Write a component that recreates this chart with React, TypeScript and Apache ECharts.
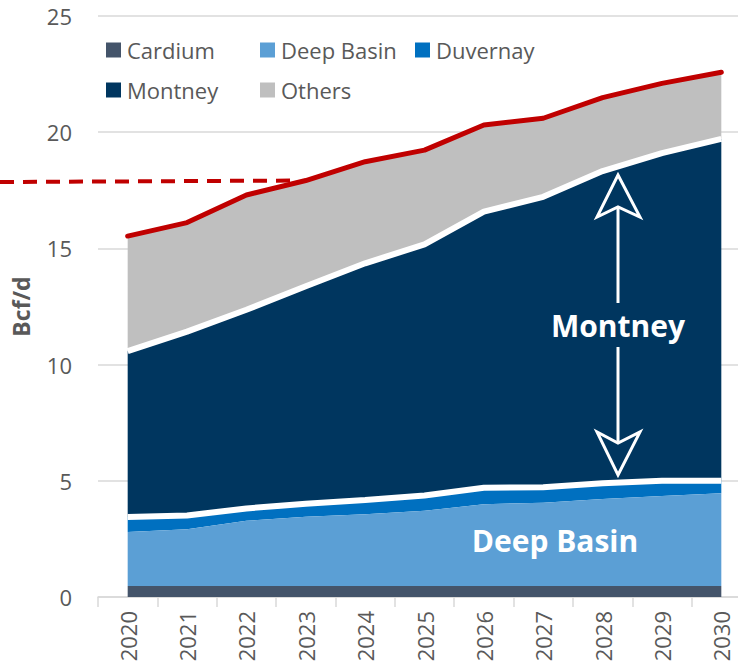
import React, { useEffect, useRef } from "react";
import * as echarts from "echarts";

const years = ["2020", "2021", "2022", "2023", "2024", "2025", "2026", "2027", "2028", "2029", "2030"];
const cardium = [0.47, 0.47, 0.47, 0.47, 0.47, 0.47, 0.47, 0.47, 0.47, 0.47, 0.47];
const deepBasin = [2.33, 2.45, 2.81, 2.98, 3.09, 3.24, 3.52, 3.59, 3.75, 3.88, 3.99];
const duvernay = [0.64, 0.59, 0.53, 0.56, 0.61, 0.66, 0.71, 0.66, 0.67, 0.65, 0.54];
const montney = [7.14, 7.91, 8.55, 9.36, 10.19, 10.8, 11.88, 12.5, 13.44, 14.1, 14.71];
const others = [4.95, 4.69, 4.94, 4.55, 4.37, 4.06, 3.73, 3.38, 3.16, 3.0, 2.87];
const yTicks = { min: 0, max: 25, interval: 5 };
const dashedLevelYear = "2023";

const COLORS = {
  Cardium: "#44546A",
  "Deep Basin": "#5B9FD5",
  Duvernay: "#0070C0",
  Montney: "#00365F",
  Others: "#BFBFBF",
};
const RED = "#C00000";
const TXT = "#595959";
const FONT = "'Open Sans', 'Noto Sans', sans-serif";

export default function App() {
  const ref = useRef<HTMLDivElement>(null);
  useEffect(() => {
    if (!ref.current) return;
    const chart = echarts.init(ref.current, null, { renderer: "svg" });
    const mk = (name: string, data: number[], z: number, line: any) => ({
      name,
      type: "line",
      stack: "total",
      data,
      symbol: "none",
      z,
      itemStyle: { color: (COLORS as any)[name] },
      areaStyle: { color: (COLORS as any)[name], opacity: 1 },
      lineStyle: line,
      emphasis: { disabled: true },
    });
    const legendItem = (name: string, left: number, top: number) => ({
      left,
      top,
      padding: 0,
      icon: "rect",
      itemWidth: 15,
      itemHeight: 15,
      itemGap: 0,
      selectedMode: false,
      textStyle: { fontSize: 22, color: TXT, fontFamily: FONT, padding: [0, 0, 0, 1], lineHeight: 26 },
      data: [{ name, itemStyle: { color: (COLORS as any)[name], borderWidth: 0 } }],
    });
    const option: any = {
      animation: false,
      textStyle: { fontFamily: FONT },
      grid: { left: 98, right: 9, top: 16, bottom: 70, containLabel: false },
      legend: [
        legendItem("Cardium", 106, 37),
        legendItem("Deep Basin", 260, 37),
        legendItem("Duvernay", 415, 37),
        legendItem("Montney", 106, 77),
        legendItem("Others", 260, 77),
      ],
      xAxis: {
        type: "category",
        data: years,
        boundaryGap: true,
        axisLine: { show: true, lineStyle: { color: "#D9D9D9", width: 1.5 } },
        axisTick: { show: true, length: 10, interval: 0, lineStyle: { color: "#D9D9D9", width: 1.5 } },
        axisLabel: { rotate: 90, fontSize: 22, color: TXT, margin: 14, fontFamily: FONT, interval: 0 },
      },
      yAxis: {
        type: "value",
        min: yTicks.min,
        max: yTicks.max,
        interval: yTicks.interval,
        name: "Bcf/d",
        nameLocation: "middle",
        nameGap: 66,
        nameTextStyle: { fontSize: 23, fontWeight: "bold", color: TXT, fontFamily: FONT },
        axisLine: { show: false },
        axisTick: { show: false },
        axisLabel: { fontSize: 22, color: TXT, margin: 26, fontFamily: FONT },
        splitLine: { lineStyle: { color: "#D9D9D9", width: 1.5 } },
      },
      series: [
        mk("Cardium", cardium, 6, { width: 0 }),
        mk("Deep Basin", deepBasin, 5, { width: 0 }),
        mk("Duvernay", duvernay, 4, { width: 6, color: "#FFFFFF" }),
        mk("Montney", montney, 3, { width: 6, color: "#FFFFFF" }),
        mk("Others", others, 2, { width: 5, color: RED, cap: "round", join: "round" }),
      ],
    };
    chart.setOption(option);

    const idx = years.indexOf(dashedLevelYear);
    const level = cardium[idx] + deepBasin[idx] + duvernay[idx] + montney[idx] + others[idx];
    const p = chart.convertToPixel({ xAxisIndex: 0, yAxisIndex: 0 }, [dashedLevelYear, level]) as number[];

    const ax = 618;
    const arrowStyle = { stroke: "#FFFFFF", lineWidth: 3, fill: "none" };
    chart.setOption({
      graphic: [
        {
          type: "line",
          z: 100,
          shape: { x1: 0, y1: p[1] + 1.5, x2: p[0] - 13, y2: p[1] },
          style: { stroke: RED, lineWidth: 4, lineDash: [14, 9] },
        },
        { type: "line", z: 100, shape: { x1: ax, y1: 207, x2: ax, y2: 303 }, style: arrowStyle },
        {
          type: "polygon",
          z: 100,
          shape: { points: [[ax, 175], [ax + 22, 217], [ax, 207], [ax - 21, 217]] },
          style: arrowStyle,
        },
        { type: "line", z: 100, shape: { x1: ax, y1: 347, x2: ax, y2: 443 }, style: arrowStyle },
        {
          type: "polygon",
          z: 100,
          shape: { points: [[ax, 475], [ax + 22, 432], [ax, 443], [ax - 21, 432]] },
          style: arrowStyle,
        },
        {
          type: "text",
          z: 100,
          x: ax,
          y: 325,
          style: {
            text: "Montney",
            fill: "#FFFFFF",
            fontSize: 30,
            fontWeight: "bold",
            fontFamily: FONT,
            align: "center",
            verticalAlign: "middle",
          },
        },
        {
          type: "text",
          z: 100,
          x: 555,
          y: 540,
          style: {
            text: "Deep Basin",
            fill: "#FFFFFF",
            fontSize: 30,
            fontWeight: "bold",
            fontFamily: FONT,
            align: "center",
            verticalAlign: "middle",
          },
        },
      ],
    });
    return () => chart.dispose();
  }, []);
  return (
    <div
      style={{
        position: "fixed",
        left: 0,
        top: 0,
        width: 738,
        height: 667,
        overflow: "hidden",
        background: "#FFFFFF",
      }}
    >
      <div ref={ref} style={{ width: 760, height: 667 }} />
    </div>
  );
}
